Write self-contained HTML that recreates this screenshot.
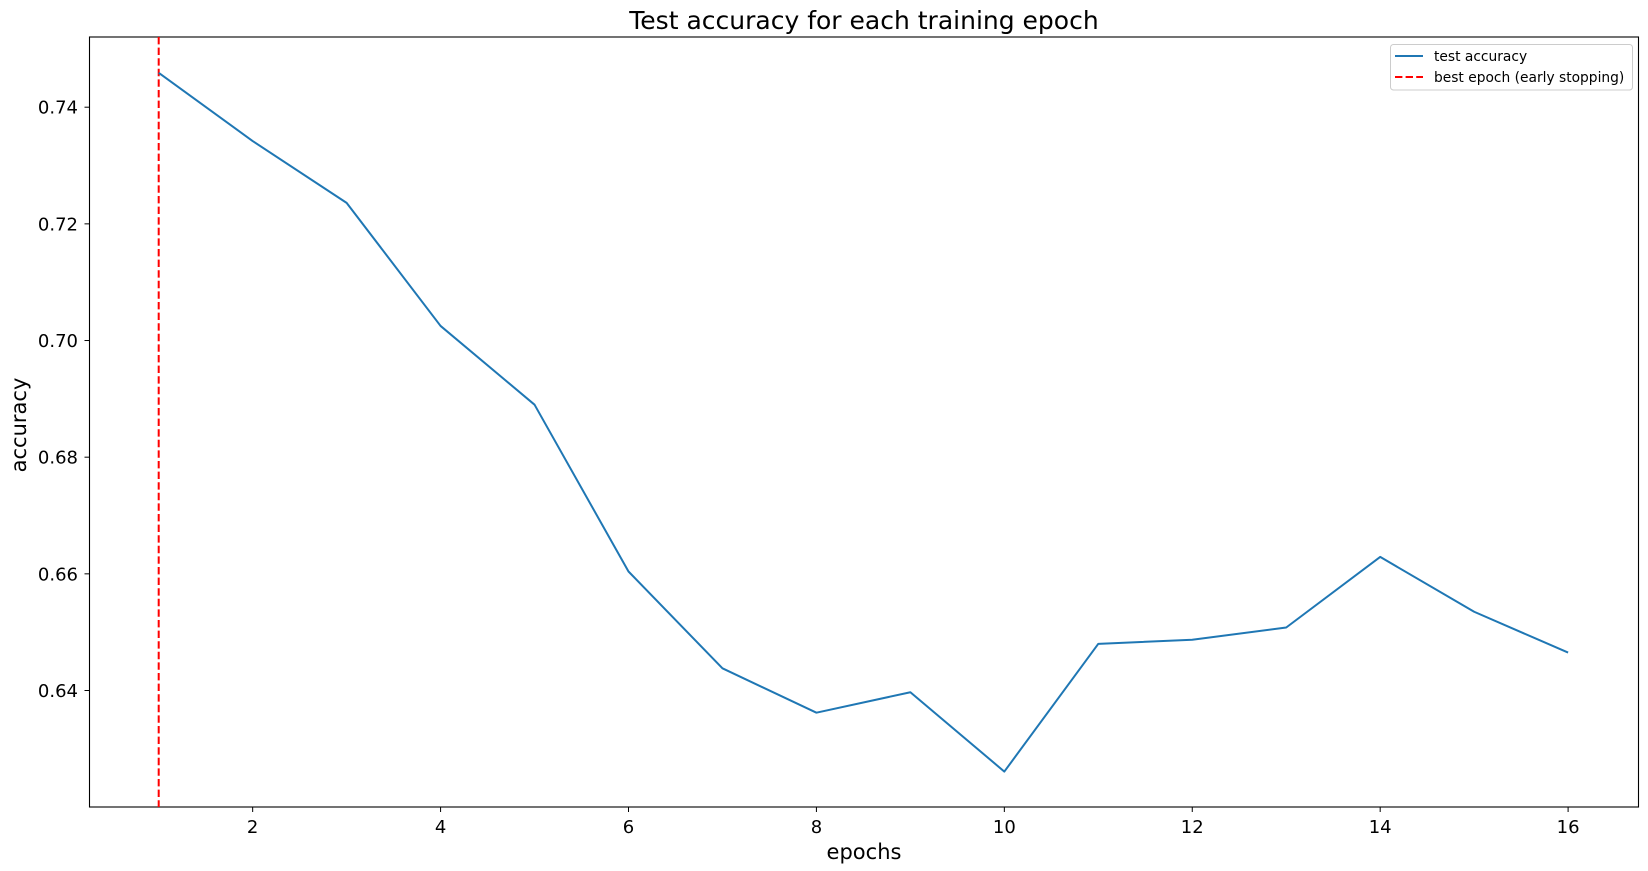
<!DOCTYPE html>
<html><head><meta charset="utf-8"><style>
html,body{margin:0;padding:0;background:#fff;}
svg{display:block;font-family:"DejaVu Sans","Liberation Sans",sans-serif;}
</style></head><body>
<svg id="chart" width="1648" height="871" viewBox="0 0 1648 871" xmlns="http://www.w3.org/2000/svg">
<text x="864" y="29" font-size="25" text-anchor="middle" fill="#000">Test accuracy for each training epoch</text>
<rect x="89.5" y="37" width="1549" height="770" fill="none" stroke="#000" stroke-width="1.1"/>
<g id="xticks"></g><g id="yticks"></g>
<line id="best" y1="37" y2="807" stroke="#ff0000" stroke-width="2" stroke-dasharray="7.4,3.2"/>
<polyline id="acc" fill="none" stroke="#1f77b4" stroke-width="2" stroke-linejoin="round"/>
<text x="864" y="859" font-size="21" text-anchor="middle">epochs</text>
<text x="0" y="0" font-size="21" text-anchor="middle" transform="translate(26,425) rotate(-90)">accuracy</text>
<g>
<rect x="1390.5" y="44.5" width="242" height="45.5" rx="3" fill="#fff" stroke="#ccc" stroke-width="1"/>
<line x1="1395" y1="56" x2="1423" y2="56" stroke="#1f77b4" stroke-width="2"/>
<text x="1434" y="61" font-size="13.8">test accuracy</text>
<line x1="1395" y1="77" x2="1423" y2="77" stroke="#ff0000" stroke-width="2" stroke-dasharray="7.4,3.2"/>
<text x="1434" y="82" font-size="13.8">best epoch (early stopping)</text>
</g>
</svg>
<script>
const epochs = [1,2,3,4,5,6,7,8,9,10,11,12,13,14,15,16];
const accuracy = [0.7459,0.7342,0.7236,0.7025,0.689,0.6604,0.6438,0.6362,0.6397,0.6261,0.648,0.6487,0.6508,0.6629,0.6535,0.6465];
const bestEpoch = 1;
const xTicks = [2,4,6,8,10,12,14,16];
const yTicks = [0.64,0.66,0.68,0.70,0.72,0.74];
const yTickLabels = ["0.64","0.66","0.68","0.70","0.72","0.74"];
const NS="http://www.w3.org/2000/svg";
function xs(v){return 158.7+(v-1)*93.96;}
function ys(v){return 107.2+(0.74-v)/0.02*116.66;}
document.getElementById('acc').setAttribute('points',epochs.map((e,i)=>xs(e)+','+ys(accuracy[i])).join(' '));
const b=document.getElementById('best');b.setAttribute('x1',xs(bestEpoch));b.setAttribute('x2',xs(bestEpoch));
const gx=document.getElementById('xticks');
xTicks.forEach(t=>{
 const l=document.createElementNS(NS,'line');
 
 
 l.setAttribute('x1',xs(t));l.setAttribute('x2',xs(t));l.setAttribute('y1',807);l.setAttribute('y2',812);l.setAttribute('stroke','#000');
 gx.appendChild(l);
 const tx=document.createElementNS(NS,'text');
 
 
 tx.setAttribute('x',xs(t));tx.setAttribute('y',833);tx.setAttribute('font-size','18');tx.setAttribute('text-anchor','middle');
 tx.textContent=t;gx.appendChild(tx);
});
const gy=document.getElementById('yticks');
yTicks.forEach((t,i)=>{
 const l=document.createElementNS(NS,'line');
 
 
 l.setAttribute('x1',84.5);l.setAttribute('x2',89.5);l.setAttribute('y1',ys(t));l.setAttribute('y2',ys(t));l.setAttribute('stroke','#000');
 gy.appendChild(l);
 const tx=document.createElementNS(NS,'text');
 
 
 tx.setAttribute('x',78);tx.setAttribute('y',ys(t)+6.5);tx.setAttribute('font-size','18');tx.setAttribute('text-anchor','end');
 tx.textContent=yTickLabels[i];gy.appendChild(tx);
});
</script>
</body></html>
